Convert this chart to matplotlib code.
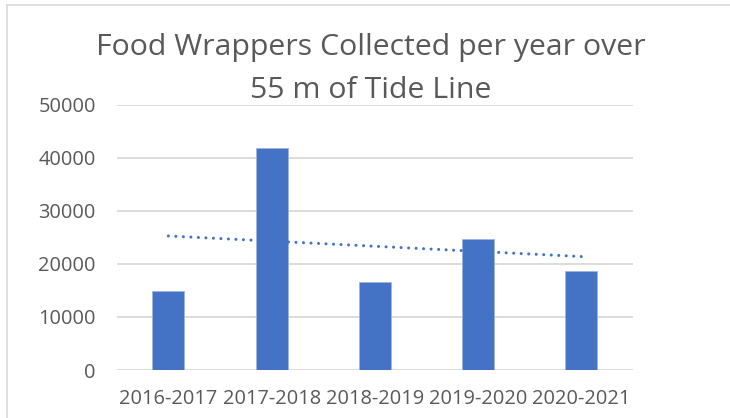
import numpy as np
import matplotlib
matplotlib.use("Agg")
import matplotlib.pyplot as plt
from matplotlib.lines import Line2D

# Data
seasons = ["2016-2017", "2017-2018", "2018-2019", "2019-2020", "2020-2021"]
wrappers = [14900, 41800, 16600, 24700, 18600]
y_ticks = [0, 10000, 20000, 30000, 40000, 50000]
title_lines = ["Food Wrappers Collected per year over", "55 m of Tide Line"]

BLUE = "#4472C4"
GREY_TEXT = "#595959"
GRID = "#D9D9D9"

W, H, DPI = 730, 418, 100
fig = plt.figure(figsize=(W / DPI, H / DPI), dpi=DPI)
fig.patch.set_facecolor("white")

left, right, top, bottom = 116.7, 633.0, 104.7, 370.0
ax = fig.add_axes([left / W, 1 - bottom / H, (right - left) / W, (bottom - top) / H])

x = np.arange(len(seasons))
ax.bar(x, wrappers, width=0.31, color=BLUE, edgecolor="#9DB3E0", linewidth=0.6, zorder=3)

# Linear trend line (least squares fit over the category index)
coef = np.polyfit(x, wrappers, 1)
trend = np.polyval(coef, x)
ax.plot(x, trend, color=BLUE, linewidth=2.2, linestyle=(0, (0.01, 2.45)),
        dash_capstyle="round", solid_capstyle="round", zorder=4)

ax.set_xlim(-0.5, len(seasons) - 0.5)
ax.set_ylim(0, 50000)
ax.set_yticks(y_ticks)
ax.set_yticklabels([str(v) for v in y_ticks])
ax.set_xticks(x)
ax.set_xticklabels(seasons)

for s in ax.spines.values():
    s.set_visible(False)
ax.grid(axis="y", color=GRID, linewidth=1.3, zorder=0)
ax.set_axisbelow(True)
ax.tick_params(axis="both", length=0, colors=GREY_TEXT, labelsize=14.4)
ax.tick_params(axis="y", pad=15)
ax.tick_params(axis="x", pad=13.5)
for lab in ax.get_xticklabels() + ax.get_yticklabels():
    lab.set_fontfamily("Open Sans")

# Title on two lines
fig.text(370.4 / W, 1 - 55 / H, title_lines[0], ha="center", va="baseline",
         fontsize=21.8, color=GREY_TEXT, fontfamily="Open Sans")
fig.text(370.4 / W, 1 - 98.3 / H, title_lines[1], ha="center", va="baseline",
         fontsize=21.8, color=GREY_TEXT, fontfamily="Open Sans")

# Chart frame (left and top edges)
fx, fy = 6.5 / W, 1 - 4.5 / H
fig.add_artist(Line2D([fx, fx], [0, fy], transform=fig.transFigure, color=GRID, linewidth=1.2))
fig.add_artist(Line2D([fx, 1], [fy, fy], transform=fig.transFigure, color=GRID, linewidth=1.2))

fig.savefig("out.png", dpi=DPI)
